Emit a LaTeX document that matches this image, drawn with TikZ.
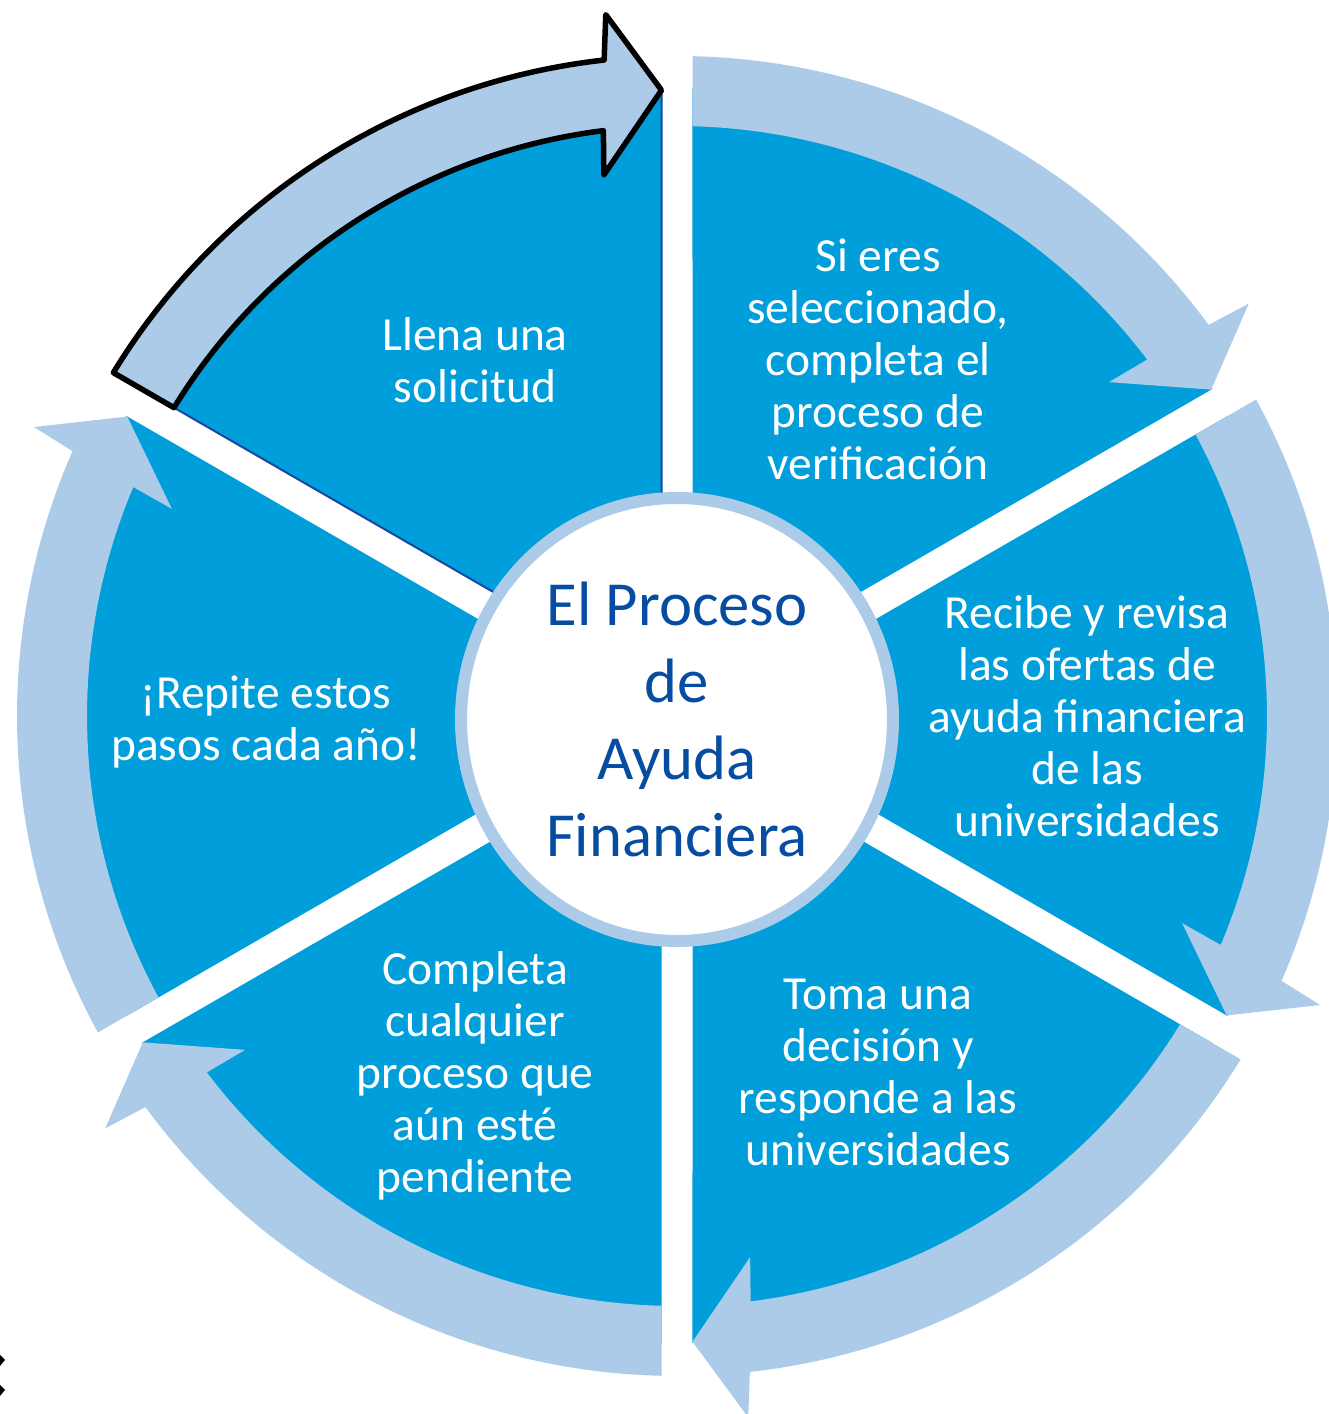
\documentclass[tikz,border=0pt]{standalone}
\usepackage{fontspec}
\setmainfont{Carlito}
\usetikzlibrary{shapes.geometric}
\definecolor{secblue}{RGB}{0,158,218}
\definecolor{arrblue}{RGB}{171,203,232}
\definecolor{hubtextc}{RGB}{6,76,160}
\definecolor{edgeblue}{RGB}{22,72,160}
\tikzset{
  sectorfill/.style={fill=secblue},
  arrowfill/.style={fill=arrblue},
  hilite/.style={fill=arrblue, draw=black, line width=5.5, line join=round},
  stxt/.style={anchor=base, inner sep=0pt, text=white, font=\fontsize{47.5}{52}\selectfont},
  htxt/.style={anchor=base, inner sep=0pt, text=hubtextc, font=\fontsize{62.7}{76.8}\selectfont},
}
\begin{document}
\begin{tikzpicture}[x=1pt,y=1pt]
\useasboundingbox (0,0) rectangle (1329,1414);
\begin{scope}[shift={(677,698)}]
  % sectors
  \foreach \g in {90,30,-30,-90,-150} {
    \fill[sectorfill] ({\g-30}:31) -- ({\g-1.417}:627)
      arc[start angle={\g-1.417}, end angle={\g-60+1.417}, radius=627] -- cycle;
  }
  \foreach \g in {150} {
    \fill[sectorfill, draw=edgeblue, line width=2] ({\g-30}:31) -- ({\g-1.417}:627)
      arc[start angle={\g-1.417}, end angle={\g-60+1.417}, radius=627] -- cycle;
  }
  % arrows
  \foreach \g in {90,30,-30,-90,-150} {
    \fill[arrowfill] ({\g-1.346}:660)
      arc[start angle={\g-1.346}, end angle={\g-60+6.34}, radius=660]
      -- ({\g-60+5.8}:705) -- ({\g-60+1.42}:626) -- ({\g-60+7.7}:546)
      -- ({\g-60+7.17}:590)
      arc[start angle={\g-60+7.17}, end angle={\g-1.505}, radius=590] -- cycle;
  }
  \foreach \g in {150} {
    \filldraw[hilite] ({\g-1.346}:660)
      arc[start angle={\g-1.346}, end angle={\g-60+6.34}, radius=660]
      -- ({\g-60+5.8}:705) -- ({\g-60+1.42}:626) -- ({\g-60+7.7}:546)
      -- ({\g-60+7.17}:590)
      arc[start angle={\g-60+7.17}, end angle={\g-1.505}, radius=590] -- cycle;
  }
  % hub
  \node[ellipse, draw=arrblue, line width=12, fill=white, minimum width=432,
        minimum height=443, inner sep=0pt] (hub) at (0,-3.5) {};
  \node[htxt] (hubtxt) at (0,90.3) {\begin{tabular}[t]{@{}c@{}}El Proceso\\de\\Ayuda\\Financiera\end{tabular}};
  % step texts
  \node[stxt] (s1) at (-202,365.8) {\begin{tabular}[t]{@{}c@{}}Llena una\\solicitud\end{tabular}};
  \node[stxt] (s2) at (201,444.3) {\begin{tabular}[t]{@{}c@{}}Si eres\\seleccionado,\\completa el\\proceso de\\verificación\end{tabular}};
  \node[stxt] (s3) at (410,87.7) {\begin{tabular}[t]{@{}c@{}}Recibe y revisa\\las ofertas de\\ayuda financiera\\de las\\universidades\end{tabular}};
  \node[stxt] (s4) at (201,-294) {\begin{tabular}[t]{@{}c@{}}Toma una\\decisión y\\responde a las\\universidades\end{tabular}};
  \node[stxt] (s5) at (-202,-269) {\begin{tabular}[t]{@{}c@{}}Completa\\cualquier\\proceso que\\aún esté\\pendiente\end{tabular}};
  \node[stxt] (s6) at (-411,7) {\begin{tabular}[t]{@{}c@{}}¡Repite estos\\pasos cada año!\end{tabular}};
\end{scope}
% edge marks at lower left
\fill[black] (0,59) -- (5,54) -- (0,48) -- cycle;
\fill[black] (0,29) -- (5,24) -- (0,18) -- cycle;
\end{tikzpicture}
\end{document}
